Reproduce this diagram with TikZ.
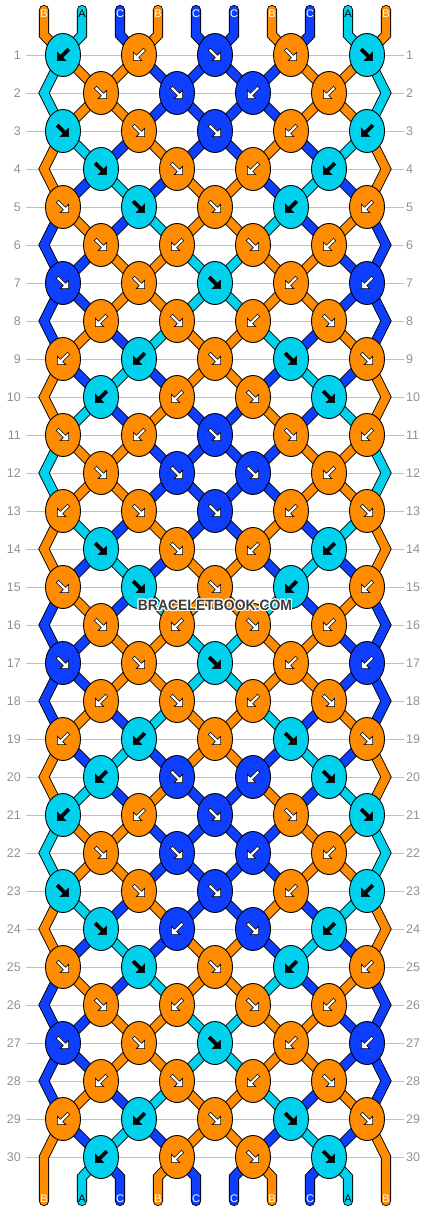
\documentclass[tikz,border=0pt]{standalone}
\usepackage{fontspec}
\setmainfont{Liberation Sans}
\usepackage{graphicx}
\usetikzlibrary{shapes.geometric}
\definecolor{colO}{RGB}{255,140,0}
\definecolor{colA}{RGB}{0,210,238}
\definecolor{colC}{RGB}{14,62,255}
\definecolor{gridgray}{RGB}{192,192,192}
\definecolor{labgray}{RGB}{145,145,145}
\definecolor{wmgray}{RGB}{60,60,60}
\pgfdeclarelayer{grid}
\pgfdeclarelayer{strands}
\pgfsetlayers{grid,strands,main}
\tikzset{
  knot/.style={ellipse, draw=black, line width=0.9pt, minimum width=35pt, minimum height=43pt, inner sep=0pt},
  strand/.style={draw=black, line width=0.9pt, double distance=8.4pt, line join=miter},
  rowline/.style={draw=gridgray, line width=0.8pt},
  rowlab/.style={text=labgray, font=\fontsize{12.5}{12.5}\selectfont, inner sep=0pt},
  endlab/.style={font=\fontsize{11}{11}\selectfont, inner sep=0pt},
  wm/.style={font=\fontsize{15}{15}\selectfont\bfseries, inner sep=0pt},
}
\begin{document}
\begin{tikzpicture}[x=1pt,y=-1pt]
\useasboundingbox (0,0) rectangle (430,1212);

% row guide lines and numbers
\begin{pgfonlayer}{grid}
\foreach \rr in {1,...,30}{
  \pgfmathsetmacro\yy{55+38*(\rr-1)}
  \node[rowlab, anchor=east] (ll\rr) at (21,\yy) {\rr};
  \node[rowlab, anchor=west] (rl\rr) at (406,\yy) {\rr};
  \draw[rowline, shorten <=5pt, shorten >=2pt] (ll\rr.east) -- (rl\rr.west);
}
\end{pgfonlayer}

% knots
\foreach \rr/\ks in {
 1/{A/L,O/L,C/R,O/R,A/R},
 2/{O/R,C/R,C/L,O/L},
 3/{A/R,O/R,C/R,O/L,A/L},
 4/{A/R,O/R,O/L,A/L},
 5/{O/R,A/R,O/R,A/L,O/L},
 6/{O/R,O/L,O/R,O/L},
 7/{C/R,O/R,A/R,O/L,C/L},
 8/{O/L,O/R,O/L,O/R},
 9/{O/L,A/L,O/R,A/R,O/R},
 10/{A/L,O/L,O/R,A/R},
 11/{O/R,O/L,C/R,O/R,O/L},
 12/{O/R,C/R,C/R,O/L},
 13/{O/L,O/R,C/R,O/L,O/R},
 14/{A/R,O/R,O/L,A/L},
 15/{O/R,A/R,O/R,A/L,O/L},
 16/{O/R,O/L,O/R,O/L},
 17/{C/R,O/R,A/R,O/L,C/L},
 18/{O/L,O/R,O/L,O/R},
 19/{O/L,A/L,O/R,A/R,O/R},
 20/{A/L,C/R,C/L,A/R},
 21/{A/L,O/L,C/R,O/R,A/R},
 22/{O/R,C/R,C/L,O/L},
 23/{A/R,O/R,C/R,O/L,A/L},
 24/{A/R,C/L,C/R,A/L},
 25/{O/R,A/R,O/R,A/L,O/L},
 26/{O/R,O/L,O/R,O/L},
 27/{C/R,O/R,A/R,O/L,C/L},
 28/{O/L,O/R,O/L,O/R},
 29/{O/L,A/L,O/R,A/R,O/R},
 30/{A/L,O/L,O/R,A/R}}{
  \pgfmathsetmacro\yy{55+38*(\rr-1)}
  \pgfmathsetmacro\xo{isodd(\rr)?63:101}
  \foreach \kc/\kd [count=\ki from 0] in \ks {
    \node[knot, fill=col\kc] (k\rr-\ki) at ({\xo+76*\ki},\yy) {};
    \if L\kd\def\ang{-135}\else\def\ang{-45}\fi
    \if A\kc\def\af{black}\else\def\af{white}\fi
    \filldraw[fill=\af, draw=black, line width=0.6pt, line join=miter, shift={(k\rr-\ki.center)}, rotate=\ang]
      (-8,-1.6) -- (2,-1.6) -- (2,-6) -- (8,0) -- (2,6) -- (2,1.6) -- (-8,1.6) -- cycle;
  }
}

\begin{pgfonlayer}{strands}
% inner connectors between knots
\foreach \rr/\st in {
 1/{A,O,O,C,C,C,C,O,O,A},
 2/{A,O,O,C,C,C,C,O,O,A},
 3/{O,A,C,O,C,C,O,C,A,O},
 4/{O,C,A,C,O,O,C,A,C,O},
 5/{C,O,C,A,O,O,A,C,O,C},
 6/{C,C,O,O,A,A,O,O,C,C},
 7/{C,C,O,O,A,A,O,O,C,C},
 8/{C,O,C,A,O,O,A,C,O,C},
 9/{O,C,A,C,O,O,C,A,C,O},
 10/{O,A,C,O,C,C,O,C,A,O},
 11/{A,O,O,C,C,C,C,O,O,A},
 12/{A,O,O,C,C,C,C,O,O,A},
 13/{O,A,C,O,C,C,O,C,A,O},
 14/{O,C,A,C,O,O,C,A,C,O},
 15/{C,O,C,A,O,O,A,C,O,C},
 16/{C,C,O,O,A,A,O,O,C,C},
 17/{C,C,O,O,A,A,O,O,C,C},
 18/{C,O,C,A,O,O,A,C,O,C},
 19/{O,C,A,C,O,O,C,A,C,O},
 20/{O,A,C,O,C,C,O,C,A,O},
 21/{A,O,O,C,C,C,C,O,O,A},
 22/{A,O,O,C,C,C,C,O,O,A},
 23/{O,A,C,O,C,C,O,C,A,O},
 24/{O,C,A,C,O,O,C,A,C,O},
 25/{C,O,C,A,O,O,A,C,O,C},
 26/{C,C,O,O,A,A,O,O,C,C},
 27/{C,C,O,O,A,A,O,O,C,C},
 28/{C,O,C,A,O,O,A,C,O,C},
 29/{O,C,A,C,O,O,C,A,C,O}}{
  \pgfmathtruncatemacro\rn{\rr+1}
  \foreach \sc [count=\pp from 0] in \st {
    \ifnum\pp>0 \ifnum\pp<9
      \pgfmathtruncatemacro\ia{isodd(\rr)?floor(\pp/2):floor((\pp-1)/2)}
      \pgfmathtruncatemacro\ib{isodd(\rr)?floor((\pp-1)/2):floor(\pp/2)}
      \draw[strand, double=col\sc] (k\rr-\ia.center) -- (k\rn-\ib.center);
    \fi\fi
  }
}
% edge strings (zigzag at even rows)
\foreach \rr/\sc in {2/A,4/O,6/C,8/C,10/O,12/A,14/O,16/C,18/C,20/O,22/A,24/O,26/C,28/C,30/O}{
  \pgfmathsetmacro\yy{55+38*(\rr-1)}
  \coordinate (eL\rr) at (44,\yy);
  \coordinate (eR\rr) at (386,\yy);
}
\foreach \rr/\sc in {2/A,4/O,6/C,8/C,10/O,12/A,14/O,16/C,18/C,20/O,22/A,24/O,26/C,28/C}{
  \pgfmathtruncatemacro\ra{\rr-1}
  \pgfmathtruncatemacro\rb{\rr+1}
  \draw[strand, double=col\sc] (k\ra-0.center) -- (eL\rr) -- (k\rb-0.center);
  \draw[strand, double=col\sc] (k\ra-4.center) -- (eR\rr) -- (k\rb-4.center);
}
% top strings
\foreach \sc/\lt [count=\pp from 0] in {O/B,A/A,C/C,O/B,C/C,C/C,O/B,C/C,A/A,O/B}{
  \pgfmathsetmacro\xx{44+38*\pp}
  \pgfmathtruncatemacro\ia{floor(\pp/2)}
  \coordinate (tA\pp) at (\xx,10);
  \coordinate (tB\pp) at (\xx,35);
  \draw[strand, double=col\sc, line cap=round] (tA\pp) -- (tB\pp) -- (k1-\ia.center);
}
% bottom strings
\foreach \sc/\lt [count=\pp from 0] in {O/B,A/A,C/C,O/B,C/C,C/C,O/B,C/C,A/A,O/B}{
  \pgfmathsetmacro\xx{44+38*\pp}
  \coordinate (bA\pp) at (\xx,1177);
  \coordinate (bB\pp) at (\xx,1201);
  \ifnum\pp=0
    \draw[strand, double=col\sc, line cap=round] (k29-0.center) -- (eL30) -- (bB\pp);
  \else\ifnum\pp=9
    \draw[strand, double=col\sc, line cap=round] (k29-4.center) -- (eR30) -- (bB\pp);
  \else
    \pgfmathtruncatemacro\ia{floor((\pp-1)/2)}
    \draw[strand, double=col\sc, line cap=round] (k30-\ia.center) -- (bA\pp) -- (bB\pp);
  \fi\fi
}
\end{pgfonlayer}

% string letters
\foreach \sc/\lt [count=\pp from 0] in {O/B,A/A,C/C,O/B,C/C,C/C,O/B,C/C,A/A,O/B}{
  \pgfmathsetmacro\xx{44+38*\pp}
  \if A\sc\def\lc{black}\else\def\lc{white}\fi
  \node[endlab, text=\lc] (lt\pp) at (\xx,13.5) {\lt};
  \node[endlab, text=\lc] (lb\pp) at (\xx,1199) {\lt};
}

% watermark
\foreach \dx/\dy [count=\n] in {-1/0,1/0,0/-1,0/1,-1/-1,1/1,-1/1,1/-1}{
  \node[wm, text=white] (wmh\n) at ({215+\dx},{605+\dy}) {\scalebox{0.93}[1]{BRACELETBOOK.COM}};
}
\node[wm, text=wmgray] (wm) at (215,605) {\scalebox{0.93}[1]{BRACELETBOOK.COM}};
\end{tikzpicture}
\end{document}
